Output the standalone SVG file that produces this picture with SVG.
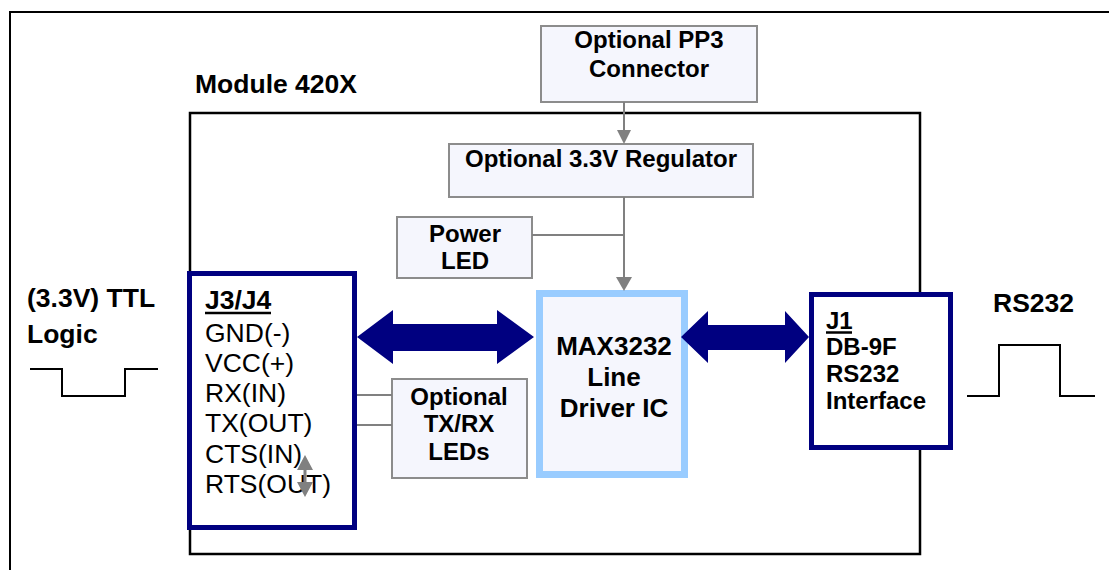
<svg xmlns="http://www.w3.org/2000/svg" width="1109" height="570" viewBox="0 0 1109 570">
<style>
text{font-family:"Liberation Sans",Arial,sans-serif;fill:#000}
.b{font-weight:bold;font-size:24px}
.o{font-weight:bold;font-size:26.5px}
.c{text-anchor:middle}
.r{font-size:26.5px}
.gbox{fill:#f5f6fd;stroke:#8c8c8c;stroke-width:2}
.nbox{fill:#fff;stroke:#000080;stroke-width:5}
.gl{stroke:#808080;stroke-width:2;fill:none}
.ga{fill:#808080}
.wave{stroke:#000;stroke-width:2;fill:none}
.big{fill:#000080}
</style>
<rect x="10" y="12" width="1120" height="580" fill="#fff" stroke="#000" stroke-width="2"/>
<g id="module">
<rect x="190" y="113" width="730" height="441" fill="#fff" stroke="#000" stroke-width="2.5"/>
<text x="195" y="93" class="o">Module 420X</text>
</g>
<g id="pp3">
<rect x="541" y="26" width="216" height="76" class="gbox"/>
<text x="649" y="48" class="b c">Optional PP3</text>
<text x="649" y="77" class="b c">Connector</text>
</g>
<g id="regulator">
<rect x="449" y="144" width="304" height="53" class="gbox"/>
<text x="601" y="167" class="b c">Optional 3.3V Regulator</text>
</g>
<g id="powerled">
<rect x="397" y="217" width="135" height="61" class="gbox"/>
<text x="465" y="242" class="b c">Power</text>
<text x="465" y="269" class="b c">LED</text>
</g>
<g id="txrxleds">
<rect x="392" y="379" width="135" height="99" class="gbox"/>
<text x="459" y="405" class="b c">Optional</text>
<text x="459" y="432" class="b c">TX/RX</text>
<text x="459" y="460" class="b c">LEDs</text>
</g>
<g id="max3232">
<rect x="539.5" y="293.5" width="145" height="181" fill="#f5f6fd" stroke="#99ccff" stroke-width="7"/>
<text x="614" y="355" class="b c" style="font-size:26px">MAX3232</text>
<text x="614" y="386" class="b c" style="font-size:26px">Line</text>
<text x="614" y="417" class="b c" style="font-size:26px">Driver IC</text>
</g>
<g id="j3j4">
<rect x="189.5" y="273.5" width="165" height="254" class="nbox"/>
<text x="205" y="309" class="o">J3/J4</text>
<line x1="205" y1="313" x2="271" y2="313" stroke="#000" stroke-width="2.5"/>
<text x="205" y="342" class="r">GND(-)</text>
<text x="205" y="372" class="r">VCC(+)</text>
<text x="205" y="402" class="r">RX(IN)</text>
<text x="205" y="432" class="r">TX(OUT)</text>
<text x="205" y="463" class="r">CTS(IN)</text>
<text x="205" y="493" class="r">RTS(OUT)</text>
</g>
<g id="j1">
<rect x="811.5" y="294.5" width="139" height="153" class="nbox"/>
<text x="826" y="329" class="b">J1</text>
<line x1="826" y1="332.5" x2="852" y2="332.5" stroke="#000" stroke-width="2.5"/>
<text x="826" y="355" class="b">DB-9F</text>
<text x="826" y="382" class="b">RS232</text>
<text x="826" y="409" class="b">Interface</text>
</g>
<g id="ttl">
<text x="27" y="307" class="o">(3.3V) TTL</text>
<text x="27" y="343" class="o">Logic</text>
<polyline points="30,369 62,369 62,396 125,396 125,369 158,369" class="wave"/>
</g>
<g id="rs232">
<text x="993" y="312" class="o">RS232</text>
<polyline points="967,396 999,396 999,345 1060,345 1060,396 1095,396" class="wave"/>
</g>
<g id="connectors">
<line x1="624" y1="102" x2="624" y2="131" class="gl"/>
<polygon points="617,130 631,130 624,144" class="ga"/>
<line x1="624" y1="197" x2="624" y2="278" class="gl"/>
<polygon points="616,277 632,277 624,291" class="ga"/>
<line x1="532" y1="235" x2="624" y2="235" class="gl"/>
<line x1="357" y1="395" x2="392" y2="395" class="gl"/>
<line x1="357" y1="425" x2="392" y2="425" class="gl"/>
<line x1="305" y1="465" x2="305" y2="487" stroke="#808080" stroke-width="3"/>
<polygon points="297,470 313,470 305,455" class="ga"/>
<polygon points="297,482 313,482 305,497" class="ga"/>
<polygon points="357,337 393,310 393,324 497,324 497,310 534,337 497,364 497,351 393,351 393,364" class="big"/>
<polygon points="681,337 708,311 708,325 785,325 785,311 809,337 785,363 785,350 708,350 708,363" class="big"/>
</g>
</svg>
